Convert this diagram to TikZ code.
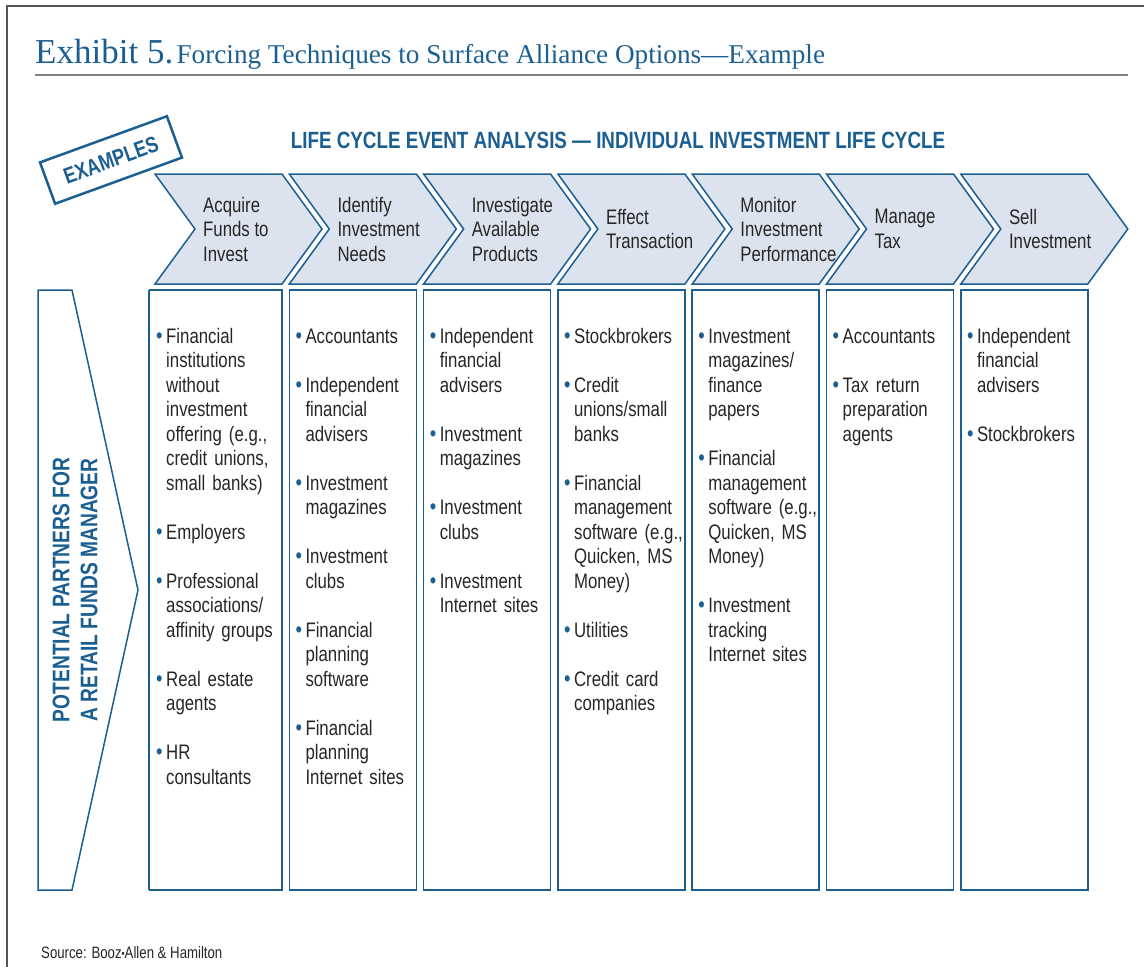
\documentclass[tikz,border=0pt]{standalone}
\usepackage{xcolor}
\usepackage{fontspec}
\setmainfont{Liberation Serif}
\newfontfamily\cond[FakeStretch=0.8]{Liberation Sans}
\usetikzlibrary{positioning}

\definecolor{exblue}{HTML}{1B5E91}
\definecolor{chevfill}{HTML}{DDE3EE}
\definecolor{txtgray}{HTML}{262626}
\definecolor{framegray}{HTML}{555555}

\newcommand{\bul}{\makebox[10pt][l]{\textcolor{exblue}{\fontsize{23}{23}\selectfont\textbullet}}}
\newcommand{\ind}{\hspace*{10pt}}

\tikzset{
  chev/.style={draw=exblue, fill=chevfill, line width=1.5pt},
  colbox/.style={draw=exblue, line width=1.5pt},
  chevtext/.style={font=\cond\fontsize{21}{24.5}\selectfont, text=txtgray, align=left, anchor=west, inner sep=0pt},
  coltext/.style={font=\cond\fontsize{21}{24.5}\selectfont, text=txtgray, text width=126pt, align=left, anchor=base west, inner sep=0pt},
}

\begin{document}
\begin{tikzpicture}[x=1pt, y=-1pt]
        \useasboundingbox (0,0) rectangle (1144,967);

        % Frame and title
        \draw [framegray, line width=1.5pt] (7,967) -- (7,6) -- (1144,6);
        \node (title) [anchor=base west, inner sep=0pt, text=exblue] at (35,63)
            {{\fontsize{35}{40}\selectfont Exhibit 5.} {\fontsize{27.2}{30}\selectfont Forcing Techniques to Surface Alliance Options---Example}};
        \draw [gray, line width=1.5pt] (35,75) -- (1128,75);

        % Stamp and heading
        \node (stamp) [draw=exblue, line width=2.5pt, rotate=20, minimum width=135pt, minimum height=44pt,
            text=exblue, font=\cond\bfseries\fontsize{22.5}{24}\selectfont] at (111,160) {EXAMPLES};
        \node (heading) [anchor=base, inner sep=0pt, text=exblue, font=\cond\bfseries\fontsize{23.5}{26}\selectfont] at (618,148)
            {LIFE CYCLE EVENT ANALYSIS — INDIVIDUAL INVESTMENT LIFE CYCLE};

        % Life cycle chevrons
        \foreach \lab [count=\i from 0] in {{Acquire\\Funds to\\Invest}, {Identify\\Investment\\Needs},
            {Investigate\\Available\\Products}, {Effect\\Transaction}, {Monitor\\Investment\\Performance},
            {Manage\\Tax}, {Sell\\Investment}} {
            \pgfmathsetmacro{\x}{155+134.3*\i}
            \draw [chev] (\x,174) -- ++(127,0) -- ++(40,55) -- ++(-40,55) -- ++(-127,0) -- ++(40,-55) -- cycle;
            \node (step\i) [chevtext] at (\x+48,229) {\lab};
            \draw [colbox] (\x,290) rectangle (\x+127,890);
        }
        % first column box is a bit wider
        \draw [colbox] (149,290) -- (155,290);
        \draw [colbox] (149,890) -- (155,890);
        \draw [colbox] (149,290) -- (149,890);
        \draw [white, line width=1.6pt] (155,291) -- (155,889);

        % Partners arrow
        \draw [colbox] (38,290) -- (72,290) -- (138,590) -- (72,890) -- (38,890) -- cycle;
        \node (partners) [rotate=90, align=center, text=exblue, font=\cond\bfseries\fontsize{24}{28}\selectfont] at (75,590)
            {POTENTIAL PARTNERS FOR\\A RETAIL FUNDS MANAGER};

        % Partner lists
        \node (list0) [coltext] at (156,343) {\bul Financial\\\ind institutions\\\ind without\\\ind investment\\\ind offering (e.g.,\\\ind credit unions,\\\ind small banks)\\[24.5pt]
            \bul Employers\\[24.5pt]
            \bul Professional\\\ind associations/\\\ind affinity groups\\[24.5pt]
            \bul Real estate\\\ind agents\\[24.5pt]
            \bul HR\\\ind consultants};
        \node (list1) [coltext] at (295.3,343) {\bul Accountants\\[24.5pt]
            \bul Independent\\\ind financial\\\ind advisers\\[24.5pt]
            \bul Investment\\\ind magazines\\[24.5pt]
            \bul Investment\\\ind clubs\\[24.5pt]
            \bul Financial\\\ind planning\\\ind software\\[24.5pt]
            \bul Financial\\\ind planning\\\ind Internet sites};
        \node (list2) [coltext] at (429.6,343) {\bul Independent\\\ind financial\\\ind advisers\\[24.5pt]
            \bul Investment\\\ind magazines\\[24.5pt]
            \bul Investment\\\ind clubs\\[24.5pt]
            \bul Investment\\\ind Internet sites};
        \node (list3) [coltext] at (563.9,343) {\bul Stockbrokers\\[24.5pt]
            \bul Credit\\\ind unions/small\\\ind banks\\[24.5pt]
            \bul Financial\\\ind management\\\ind software (e.g.,\\\ind Quicken, MS\\\ind Money)\\[24.5pt]
            \bul Utilities\\[24.5pt]
            \bul Credit card\\\ind companies};
        \node (list4) [coltext] at (698.2,343) {\bul Investment\\\ind magazines/\\\ind finance\\\ind papers\\[24.5pt]
            \bul Financial\\\ind management\\\ind software (e.g.,\\\ind Quicken, MS\\\ind Money)\\[24.5pt]
            \bul Investment\\\ind tracking\\\ind Internet sites};
        \node (list5) [coltext] at (832.5,343) {\bul Accountants\\[24.5pt]
            \bul Tax return\\\ind preparation\\\ind agents};
        \node (list6) [coltext] at (966.8,343) {\bul Independent\\\ind financial\\\ind advisers\\[24.5pt]
            \bul Stockbrokers};

        % Source
        \node (source) [anchor=base west, inner sep=0pt, text=txtgray, font=\cond\fontsize{16.5}{19}\selectfont] at (41,958)
            {Source: Booz{\fontsize{11}{11}\selectfont\raisebox{1pt}{\textbullet}}Allen \& Hamilton};
\end{tikzpicture}
\end{document}
